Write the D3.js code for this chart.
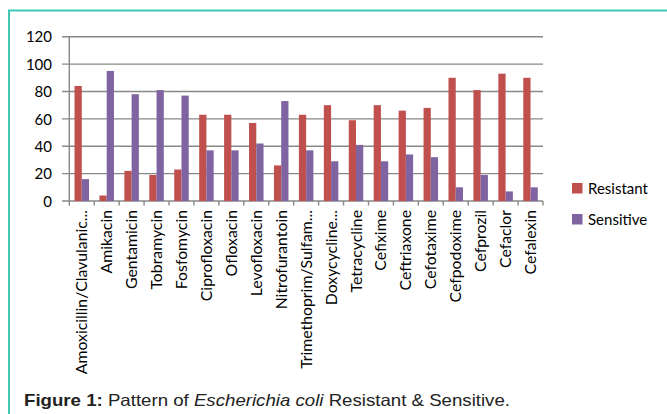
<!DOCTYPE html>
<html><head><meta charset="utf-8">
<script src="https://cdn.jsdelivr.net/npm/d3@7"></script>
<style>body{margin:0;background:#fff}svg{display:block}</style>
</head><body><svg id="c" width="667" height="414"></svg>
<script>
const categories = ["Amoxicillin/Clavulanic...","Amikacin","Gentamicin","Tobramycin","Fosfomycin","Ciprofloxacin","Ofloxacin","Levofloxacin","Nitrofurantoin","Trimethoprim/Sulfam...","Doxycycline...","Tetracycline","Cefixime","Ceftriaxone","Cefotaxime","Cefpodoxime","Cefprozil","Cefaclor","Cefalexin"];
const resistant = [84,4,22,19,23,63,63,57,26,63,70,59,70,66,68,90,81,93,90];
const sensitive = [16,95,78,81,77,37,37,42,73,37,29,41,29,34,32,10,19,7,10];
const seriesNames = ["Resistant","Sensitive"];
const colors = ["#C0504D","#8064A2"];
const yTicks = [0,20,40,60,80,100,120];

const svg = d3.select("#c");
const L = 69.3, R = 543, T = 36.7, B = 201;
const x0 = d3.scaleBand().domain(categories).range([L, R]).padding(0);
const x1 = d3.scaleBand().domain(seriesNames).range([0, x0.bandwidth()]).paddingOuter(0.72).paddingInner(0);
const y = d3.scaleLinear().domain([0,120]).range([B, T]);
const font = "Lato, 'Open Sans', sans-serif";

// frame
svg.append("path").attr("d", `M9,414 V10.5 H667`).attr("fill","none").attr("stroke","#41C9B6").attr("stroke-width",2);

// gridlines
const yAxis = d3.axisLeft(y).tickValues(yTicks).tickSize(0).tickPadding(0);
svg.append("g").selectAll("line").data(yTicks).join("line")
  .attr("x1", 62).attr("x2", R).attr("y1", d=>y(d)).attr("y2", d=>y(d))
  .attr("stroke", "#888").attr("stroke-width", 1.4);
svg.append("g").attr("transform",`translate(52,0)`).call(yAxis)
  .call(g=>g.select(".domain").remove())
  .selectAll("text").attr("font-family",font).attr("font-size",15).attr("fill","#000").attr("dy","0.35em");

// bars
const data = categories.map((c,i)=>({c, v:[resistant[i], sensitive[i]]}));
const grp = svg.append("g").selectAll("g").data(data).join("g").attr("transform", d=>`translate(${x0(d.c)},0)`);
grp.selectAll("rect").data(d=>d.v.map((v,j)=>({v, s:seriesNames[j], j}))).join("rect")
  .attr("x", d=>x1(d.s)).attr("width", x1.bandwidth())
  .attr("y", d=>y(d.v)).attr("height", d=>B - y(d.v))
  .attr("fill", d=>colors[d.j]);

// y axis line
svg.append("line").attr("x1",L).attr("x2",L).attr("y1",T).attr("y2",B).attr("stroke","#888").attr("stroke-width",1.4);
// x ticks at band boundaries
const bounds = categories.map(c=>x0(c)).concat([R]);
svg.append("g").selectAll("line").data(bounds).join("line")
  .attr("x1",d=>d).attr("x2",d=>d).attr("y1",B).attr("y2",B+4.5).attr("stroke","#888").attr("stroke-width",1.4);

// x labels
svg.append("g").selectAll("text").data(categories).join("text")
  .attr("transform", d=>`translate(${x0(d)+x0.bandwidth()/2},210) rotate(-90)`)
  .attr("text-anchor","end").attr("dy","0.35em")
  .attr("font-family",font).attr("font-size",15.8).attr("fill","#000").text(d=>d);

// legend
const lg = svg.append("g").selectAll("g").data(seriesNames).join("g")
  .attr("transform",(d,i)=>`translate(572,${183+i*31})`);
lg.append("rect").attr("width",10.5).attr("height",10.5).attr("fill",(d,i)=>colors[i]);
lg.append("text").attr("x",16).attr("y",5.5).attr("dy","0.35em").attr("font-family",font).attr("font-size",15).attr("fill","#000").text(d=>d);

// caption
const cap = svg.append("text").attr("x",24).attr("y",406).attr("font-family","'Liberation Sans', Arial, sans-serif").attr("font-size",16.5).attr("fill","#222")
  .attr("textLength",486).attr("lengthAdjust","spacingAndGlyphs");
cap.append("tspan").attr("font-weight","bold").text("Figure 1:");
cap.append("tspan").text(" Pattern of ");
cap.append("tspan").attr("font-style","italic").text("Escherichia coli");
cap.append("tspan").text(" Resistant & Sensitive.");
</script></body></html>
